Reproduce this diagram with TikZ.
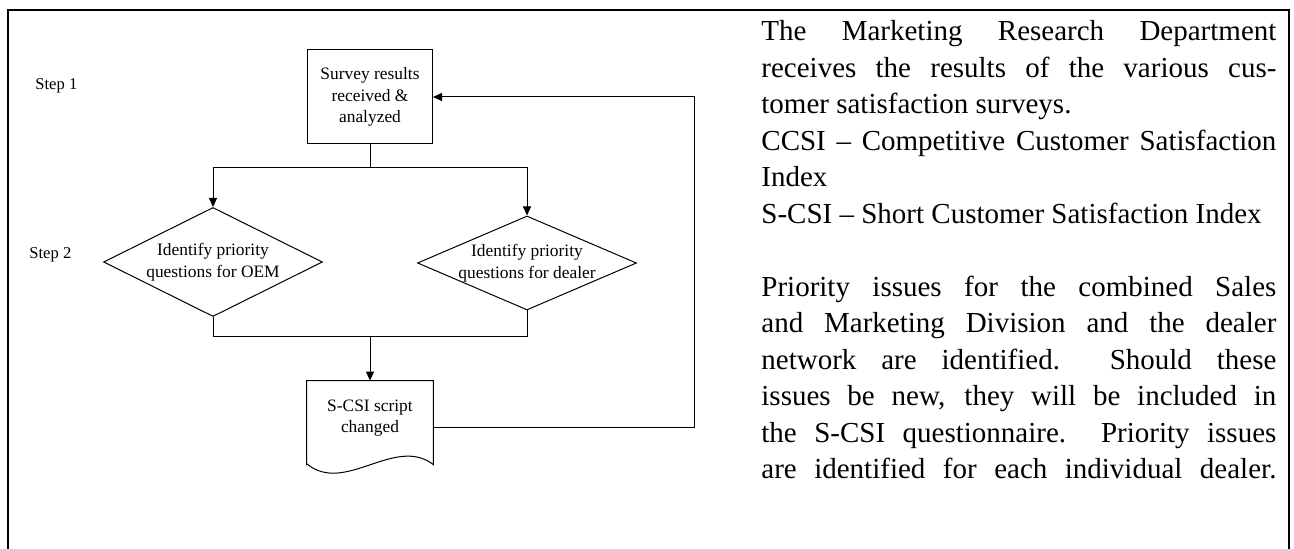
\documentclass[tikz,border=0pt]{standalone}
\usepackage{fontspec}
\setmainfont{Liberation Serif}
\usetikzlibrary{shapes.geometric,arrows.meta}

\begin{document}
\begin{tikzpicture}[x=0.5pt,y=-0.5pt,
        flow/.style={line width=0.5pt},
        arr/.style={flow,-{Triangle[length=4.5pt,width=4pt]}},
        process/.style={draw,flow,rectangle,minimum width=62.5pt,minimum height=47pt,inner sep=0pt},
        decision/.style={draw,flow,diamond,minimum width=109.5pt,inner sep=0pt},
        lbl/.style={align=center,inner sep=0pt,font=\fontsize{8.7}{10.75}\selectfont},
        steplbl/.style={anchor=west,inner sep=0pt,font=\fontsize{8.3}{10}\selectfont}]
        \useasboundingbox (0,0) rectangle (1294,549);
        \draw[line width=1pt] (8,549) -- (8,10) -- (1289,10) -- (1289,549);

        % steps
        \node[steplbl] (step1) at (35,86) {Step 1};
        \node[steplbl] (step2) at (29,255) {Step 2};

        % flow chart
        \node[process,lbl] (survey) at (370,97) {Survey results\\received \&\\analyzed};
        \node[decision,minimum height=54.5pt] (oem) at (213,262) {};
        \node[lbl] (oemtext) at (213,262) {Identify priority\\questions for OEM};
        \node[decision,minimum height=47pt] (dealer) at (527,263) {};
        \node[lbl] (dealertext) at (527,263) {Identify priority\\questions for dealer};
        \node[minimum width=63pt,minimum height=47pt,inner sep=0pt] (doc) at (370,428) {};
        \draw[flow] (doc.south west) ++(0,5.5pt) -- (doc.north west) -- (doc.north east)
            -- ++(0,-42pt) .. controls (395,435) and (345,495) .. (307,464) -- cycle;
        \node[lbl] (doctext) at (370,418) {S-CSI script\\changed};

        \coordinate (split) at (370,168);
        \coordinate (merge) at (370,337);
        \coordinate (back) at (694,97);

        \draw[flow] (survey.south) -- (split);
        \draw[arr] (split) -| (oem.north);
        \draw[arr] (split) -| (dealer.north);
        \draw[flow] (oem.south) |- (merge);
        \draw[flow] (dealer.south) |- (merge);
        \draw[arr] (merge) -- (doc.north);
        \draw[arr] (doc.east) -| (back) -- (survey.east);

        % description
        \node[anchor=north west,inner sep=0pt,text width=257.5pt,align=justify,
            font=\fontsize{14.5}{18.25}\selectfont] (notes) at (761,20) {%
            The Marketing Research Department\linebreak
            receives the results of the various cus-\linebreak
            tomer satisfaction surveys.\par
            CCSI -- Competitive Customer Satisfaction\linebreak
            Index\par
            S-CSI -- Short Customer Satisfaction Index\par
            \vskip18.25pt
            Priority issues for the combined Sales\linebreak
            and Marketing Division and the dealer\linebreak
            network are identified.\ \ Should these\linebreak
            issues be new, they will be included in\linebreak
            the S-CSI questionnaire.\ \ Priority issues\linebreak
            are identified for each individual dealer.\parfillskip=0pt\par};
\end{tikzpicture}
\end{document}
